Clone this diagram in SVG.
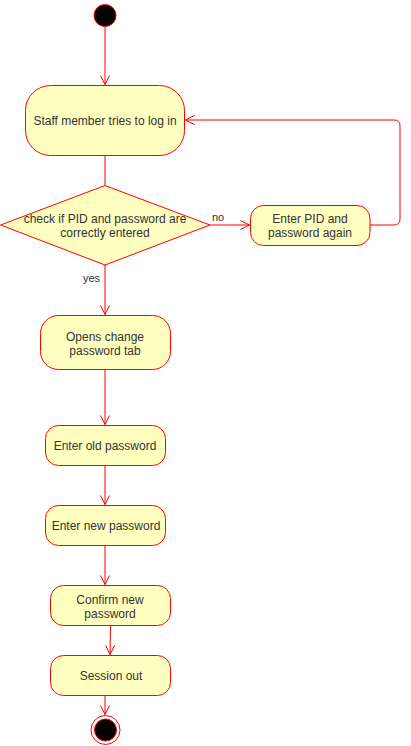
<svg xmlns="http://www.w3.org/2000/svg" width="411" height="746" viewBox="0 0 411 746">
<style>
.n{fill:#ffffc0;stroke:#ff0000;stroke-width:1}
.t{font-family:"Liberation Sans",Arial,sans-serif;font-size:12px;fill:#333333;text-anchor:middle}
.l{font-family:"Liberation Sans",Arial,sans-serif;font-size:11px;fill:#333333}
.c{fill:none;stroke:#ff0000;stroke-width:1}
</style>
<defs>
<marker id="a" markerUnits="userSpaceOnUse" markerWidth="12" markerHeight="12" refX="10" refY="5" orient="auto" viewBox="0 0 12 10">
<path d="M1,0.5 L10,5 L1,9.5" fill="none" stroke="#ff0000" stroke-width="1"/>
</marker>
</defs>
<rect width="411" height="746" fill="#ffffff"/>
<g id="connectors">
<path class="c" d="M105,27 V84.5" marker-end="url(#a)"/>
<path class="c" d="M105,155 V185"/>
<path class="c" d="M210,225 H249.5" marker-end="url(#a)"/>
<path class="c" d="M370,225 H394 Q400,225 400,219 V126 Q400,120 394,120 H185.5" marker-end="url(#a)"/>
<path class="c" d="M105,265 V314.5" marker-end="url(#a)"/>
<path class="c" d="M105,370 V424.5" marker-end="url(#a)"/>
<path class="c" d="M105,465 V504.5" marker-end="url(#a)"/>
<path class="c" d="M105,545 V584.5" marker-end="url(#a)"/>
<path class="c" d="M110.5,625 L110,654.5" marker-end="url(#a)"/>
<path class="c" d="M105,695 V714.5" marker-end="url(#a)"/>
<text class="l" x="212" y="221">no</text>
<text class="l" x="83" y="282">yes</text>
</g>
<g id="start"><circle cx="105" cy="15.5" r="11" fill="#000000" stroke="#ff0000" stroke-width="1"/></g>
<g id="login"><rect class="n" x="25.5" y="85.5" width="159" height="70" rx="25" ry="25"/><text class="t" x="105" y="125">Staff member tries to log in</text></g>
<g id="check"><polygon class="n" points="105,185.5 210,225 105,265 0.5,225"/><text class="t" x="105" y="223">check if PID and password are</text><text class="t" x="105" y="237">correctly entered</text></g>
<g id="again"><rect class="n" x="250.5" y="205.5" width="119.5" height="40" rx="13" ry="13"/><text class="t" x="310" y="223">Enter PID and</text><text class="t" x="310" y="237">password again</text></g>
<g id="opens"><rect class="n" x="40.5" y="315.5" width="130" height="54" rx="18" ry="18"/><text class="t" x="105" y="341">Opens change</text><text class="t" x="105" y="355">password tab</text></g>
<g id="old"><rect class="n" x="45.5" y="425.5" width="120" height="40" rx="13" ry="13"/><text class="t" x="105" y="450">Enter old password</text></g>
<g id="new"><rect class="n" x="45.5" y="505.5" width="120" height="40" rx="13" ry="13"/><text class="t" x="106" y="530">Enter new password</text></g>
<g id="confirm"><rect class="n" x="50.5" y="585.5" width="120" height="40" rx="13" ry="13"/><text class="t" x="110" y="604">Confirm new</text><text class="t" x="110" y="618">password</text></g>
<g id="session"><rect class="n" x="50.5" y="655.5" width="120" height="40" rx="13" ry="13"/><text class="t" x="111" y="680">Session out</text></g>
<g id="end"><circle cx="105.5" cy="730" r="14.5" fill="#ffffff" stroke="#ff0000" stroke-width="1"/><circle cx="105.5" cy="730" r="11" fill="#000000" stroke="#ff0000" stroke-width="1"/></g>
</svg>
